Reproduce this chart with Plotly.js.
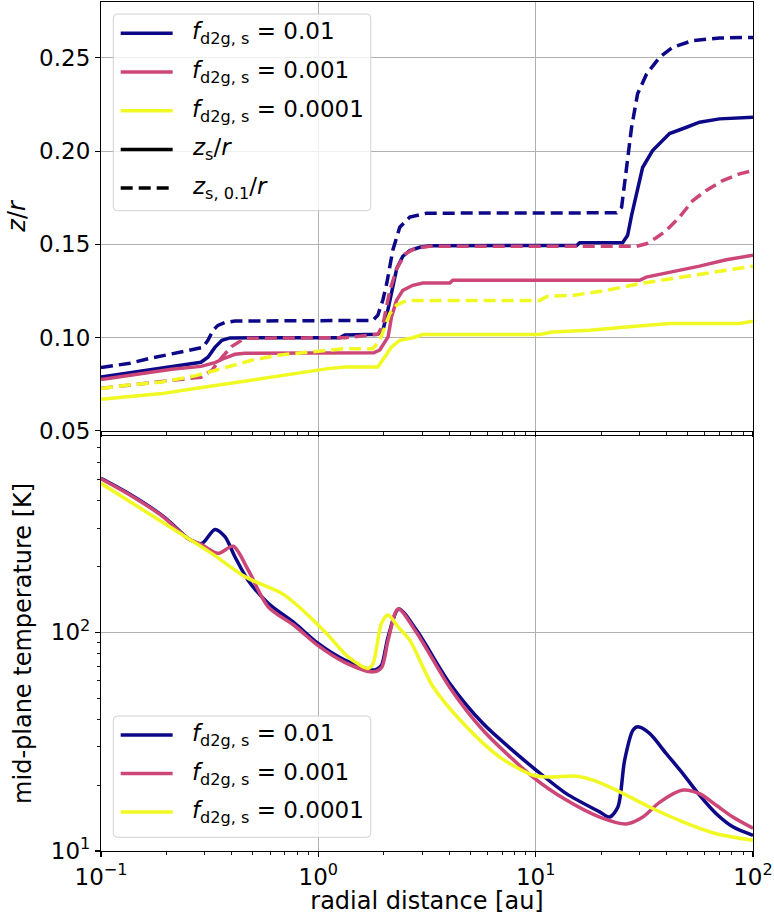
<!DOCTYPE html>
<html><head><meta charset="utf-8">
<script src="https://cdn.plot.ly/plotly-3.0.1.min.js"></script>
<style>html,body{margin:0;padding:0;background:#fff}#chart{width:774px;height:915px}</style>
</head><body><div id="chart"></div>
<script>
// ---------- data: top panel (z/r) ----------
const r_zs_1 = [0.1,0.1223,0.1511,0.1867,0.2433,0.2883,0.3105,0.3343,0.36,0.3919,1.255,1.323,1.877,1.98,2.065,2.132,2.225,2.296,2.447,2.635,2.93,3.256,15.44,15.94,25.12,26.49,27.63,29.14,31.05,34.51,41.31,49.46,56.75,70.15,100];
const zs_1   = [0.0788,0.0803,0.0819,0.0835,0.0851,0.0867,0.0894,0.0947,0.0985,0.0998,0.0999,0.1014,0.1017,0.1038,0.112,0.120,0.1307,0.1371,0.1436,0.1467,0.1484,0.1492,0.1494,0.1509,0.1509,0.1548,0.1655,0.1773,0.1912,0.2003,0.2094,0.2128,0.2155,0.2173,0.2182];

const r_zs01_1 = [0.1,0.136,0.168,0.2189,0.2705,0.2944,0.3105,0.3273,0.3451,0.3717,0.4132,1.781,1.877,1.98,2.065,2.201,2.37,2.635,3.155,23.58,24.86,26.2,27.63,29.44,32.38,37.16,42.65,52.71,70.15,100];
const zs01_1   = [0.0839,0.0862,0.0888,0.0915,0.0937,0.0947,0.0985,0.1038,0.1065,0.1081,0.1088,0.1092,0.1119,0.120,0.1291,0.1468,0.1592,0.1646,0.1667,0.1669,0.1699,0.1914,0.2128,0.2307,0.2414,0.2503,0.2557,0.2593,0.2607,0.2610];

const r_zs_2 = [0.1,0.1511,0.2114,0.2883,0.3343,0.3717,0.4132,0.4593,1.8,1.918,2.094,2.171,2.289,2.447,2.72,3.024,4.024,4.154,30.08,32.28,42.65,56.75,75.3,100];
const zs_2   = [0.0775,0.0805,0.083,0.0845,0.0865,0.089,0.091,0.0915,0.0918,0.0933,0.1003,0.111,0.1199,0.1253,0.128,0.1292,0.1292,0.1307,0.1307,0.1324,0.1351,0.1383,0.1417,0.1441];

const r_zs01_2 = [0.1,0.168,0.2883,0.3238,0.36,0.4003,0.4593,1.323,1.877,1.98,2.132,2.296,2.499,2.778,3.256,29.04,32.28,35.89,39.89,45.92,52.88,60.93,72.62,86.7,100];
const zs01_2   = [0.0728,0.0755,0.0787,0.0824,0.0894,0.0953,0.0996,0.0999,0.1017,0.1065,0.1252,0.137,0.1446,0.1478,0.1489,0.1489,0.1503,0.1535,0.1574,0.1646,0.1735,0.1789,0.1842,0.1878,0.1896];

const r_zs_3 = [0.1,0.1335,0.1902,0.2705,0.3837,0.5483,0.7798,1.106,1.323,1.877,2.022,2.171,2.37,2.72,3.024,10.43,11.97,17.72,26.12,41.31,86.7,100];
const zs_3   = [0.0669,0.0681,0.0699,0.0726,0.0753,0.078,0.081,0.0833,0.0842,0.0842,0.0896,0.0949,0.0985,0.0999,0.1016,0.1016,0.103,0.1039,0.1056,0.1075,0.1075,0.1088];

const r_zs01_3 = [0.1,0.1335,0.1902,0.2705,0.3588,0.4931,0.6515,0.8946,1.323,1.781,1.918,2.022,2.132,2.289,2.545,10.43,11.36,14.79,21.21,30.08,42.65,60.93,86.7,100];
const zs01_3   = [0.0726,0.0745,0.0761,0.0794,0.0833,0.0878,0.0905,0.0922,0.094,0.094,0.0985,0.1056,0.1128,0.1173,0.1199,0.1199,0.1221,0.1226,0.1253,0.1289,0.1316,0.1342,0.1369,0.1383];

// ---------- data: bottom panel (mid-plane temperature) ----------
const r_T_1 = [0.1,0.1335,0.1902,0.2114,0.252,0.2905,0.3343,0.3717,0.4132,0.4756,0.5878,0.7798,0.998,1.323,1.757,1.852,1.953,2.094,2.345,2.829,4.024,5.725,8.153,10.07,13.84,19.7,21.89,23.9,25.66,28.02,29.54,33.43,39.89,47.56,56.75,67.74,80.75,100];
const T_1   = [507,433,344,315,269,255,296,274,222,173,136,110,89,74.7,67.4,67.8,70.8,95.4,128,102.5,58.4,38.3,27.9,23.4,18.3,15.1,14.3,15.9,26.0,35.7,37.0,34.5,27.9,22.6,18.0,14.8,12.9,11.8];

const r_T_2 = [0.1,0.1335,0.1902,0.252,0.2905,0.3462,0.4059,0.4756,0.5878,0.7798,0.998,1.323,1.786,1.953,2.094,2.328,2.829,4.024,5.725,9.719,13.84,19.7,26.12,31.15,37.16,47.56,56.75,67.74,80.75,100];
const T_2   = [505,430,342,268,252,230,248,193,131,107,87,73,66,69,92,128,100,56,35.7,21.8,17.1,14.3,13.3,14.3,16.7,19.0,18.3,16.2,14.3,12.7];

const r_T_3 = [0.1,0.1902,0.3228,0.4593,0.6775,0.7798,0.9636,1.11,1.371,1.694,1.786,1.953,2.094,2.328,2.635,3.372,4.802,6.832,9.719,11.6,15.39,18.34,23.5,33.43,47.56,67.74,100];
const T_3   = [481,321,230,180,151,136,112,97.2,77.3,68.4,72.1,110,120,106,92.2,56.4,37.0,26.9,22.2,21.8,22.0,21.1,19.0,15.9,13.6,12.0,11.2];

// ---------- labels ----------
const legendLabels = ['<i>f</i><sub>d2g, s</sub> = 0.01','<i>f</i><sub>d2g, s</sub> = 0.001','<i>f</i><sub>d2g, s</sub> = 0.0001'];
const styleLabels = ['<i>z</i><sub>s</sub>/<i>r</i>','<i>z</i><sub>s, 0.1</sub>/<i>r</i>'];
const xTickVals = [0.1,1,10,100];
const xTickText = ['10<sup>\u22121</sup>','10<sup>0</sup>','10<sup>1</sup>','10<sup>2</sup>'];
const yTickValsT = [10,100];
const yTickTextT = ['10<sup>1</sup>','10<sup>2</sup>'];

// ---------- styling ----------
const COLORS = ['#0d0887','#cc4778','#f0f921'];
const LW = 3.5;
const DASH = '12px,6px';
const FONT = {family:'DejaVu Sans, Verdana, sans-serif', size:23, color:'#000'};
const TFONT = {family:'DejaVu Sans, Verdana, sans-serif', size:24, color:'#000'};

const traces = [];
const topSets = [[r_zs_1,zs_1,r_zs01_1,zs01_1],[r_zs_2,zs_2,r_zs01_2,zs01_2],[r_zs_3,zs_3,r_zs01_3,zs01_3]];
topSets.forEach((s,i)=>{
  traces.push({x:s[0],y:s[1],xaxis:'x2',yaxis:'y2',mode:'lines',line:{color:COLORS[i],width:LW},showlegend:false,hoverinfo:'skip'});
  traces.push({x:s[2],y:s[3],xaxis:'x2',yaxis:'y2',mode:'lines',line:{color:COLORS[i],width:LW,dash:DASH},showlegend:false,hoverinfo:'skip'});
});
const botSets = [[r_T_1,T_1],[r_T_2,T_2],[r_T_3,T_3]];
botSets.forEach((s,i)=>{
  traces.push({x:s[0],y:s[1],xaxis:'x',yaxis:'y',mode:'lines',line:{color:COLORS[i],width:LW,shape:'spline',smoothing:0.8},showlegend:false,hoverinfo:'skip'});
});

// minor tick positions
const minorX=[]; for(let d=-1; d<2; d++) for(let k=2;k<10;k++) minorX.push(k*Math.pow(10,d));
const minorY=[]; for(let d=1; d<3; d++) for(let k=2;k<8;k++) minorY.push(k*Math.pow(10,d));
for(let k=8;k<10;k++) minorY.push(k*10);

const L=101, R=753.5, T0=2, B0=851;
const px = v => (v-L)/(R-L);
const py = v => (B0-v)/(B0-T0);

const baseAxis = {showline:true, linecolor:'#000', linewidth:1.1, mirror:true, ticks:'outside', ticklen:5, tickwidth:1.1, tickcolor:'#000',
  showgrid:true, gridcolor:'#b0b0b0', gridwidth:1, zeroline:false, tickfont:FONT};

const xAxisCommon = Object.assign({}, baseAxis, {type:'log', range:[-1,2], tickmode:'array', tickvals:xTickVals, ticktext:xTickText,
  minor:{tickmode:'array', tickvals:minorX, ticks:'outside', ticklen:3, tickwidth:0.9, tickcolor:'#000', showgrid:false}});

const layout = {
  width:774, height:915, margin:{l:L, r:774-R, t:T0, b:915-B0},
  paper_bgcolor:'#fff', plot_bgcolor:'#fff', showlegend:false, font:FONT,
  xaxis: Object.assign({}, xAxisCommon, {domain:[0,1], anchor:'y', title:{text:'radial distance [au]', font:TFONT, standoff:5}}),
  xaxis2: Object.assign({}, xAxisCommon, {domain:[0,1], anchor:'y2', matches:'x', showticklabels:false}),
  yaxis: Object.assign({}, baseAxis, {type:'log', range:[1,2.9], domain:[0,py(435.7)], tickmode:'array', tickvals:yTickValsT, ticktext:yTickTextT,
    minor:{tickmode:'array', tickvals:minorY, ticks:'outside', ticklen:3, tickwidth:0.9, tickcolor:'#000', showgrid:false},
    title:{text:'mid-plane temperature [K]', font:TFONT, standoff:12}}),
  yaxis2: Object.assign({}, baseAxis, {range:[0.05,0.28], domain:[py(430.7),1], tickmode:'linear', tick0:0.05, dtick:0.05, tickformat:'.2f',
    title:{text:'<i>z</i>/<i>r</i>', font:TFONT, standoff:6}}),
  shapes:[], annotations:[]
};

function legendBox(y0px, y1px){
  const x0=px(113.3), x1=px(371), ya=py(y1px), yb=py(y0px);
  const rx=4/(R-L), ry=4/(B0-T0);
  layout.shapes.push({type:'path', xref:'paper', yref:'paper', layer:'above',
    path:`M ${x0+rx},${ya} L ${x1-rx},${ya} Q ${x1},${ya} ${x1},${ya+ry} L ${x1},${yb-ry} Q ${x1},${yb} ${x1-rx},${yb} L ${x0+rx},${yb} Q ${x0},${yb} ${x0},${yb-ry} L ${x0},${ya+ry} Q ${x0},${ya} ${x0+rx},${ya} Z`,
    fillcolor:'rgba(255,255,255,0.8)', line:{color:'rgba(204,204,204,0.9)', width:1}});
}
function legendItem(rowPx, color, dash, text){
  layout.shapes.push({type:'line', xref:'paper', yref:'paper', layer:'above', x0:px(120.7), x1:px(172.7), y0:py(rowPx), y1:py(rowPx),
    line:{color:color, width:LW, dash:dash||'solid'}});
  layout.annotations.push({xref:'paper', yref:'paper', x:px(190), y:py(rowPx), xanchor:'left', yanchor:'middle', showarrow:false, text:text, font:FONT});
}
// top legend
legendBox(14, 210.7);
const topRows=[33.3,72,110.7,149.4,188.1];
legendItem(topRows[0], COLORS[0], null, legendLabels[0]);
legendItem(topRows[1], COLORS[1], null, legendLabels[1]);
legendItem(topRows[2], COLORS[2], null, legendLabels[2]);
legendItem(topRows[3], '#000', null, styleLabels[0]);
legendItem(topRows[4], '#000', DASH, styleLabels[1]);
// bottom legend
legendBox(716, 837.3);
const botRows=[735,773.5,812];
botRows.forEach((rw,i)=>legendItem(rw, COLORS[i], null, legendLabels[i]));

Plotly.newPlot('chart', traces, layout, {staticPlot:true, displayModeBar:false});
</script></body></html>
